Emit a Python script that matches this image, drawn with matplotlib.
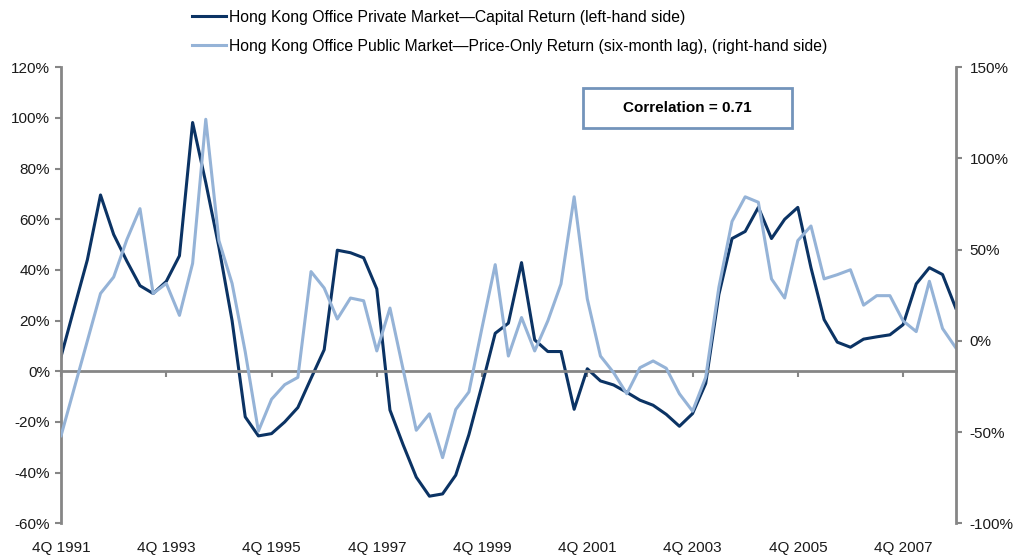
import numpy as np
import matplotlib
matplotlib.use("Agg")
import matplotlib.pyplot as plt
from matplotlib.patches import Rectangle
from matplotlib.transforms import blended_transform_factory
from matplotlib.ticker import FuncFormatter, MultipleLocator

plt.rcParams['font.family'] = ['Liberation Sans', 'DejaVu Sans']

# quarterly returns (%), 4Q 1991 .. 4Q 2008
private_return = [5.8, 25, 44, 69.6, 54, 43.5, 33.8, 30.7, 35.5, 45.6,
                  98.2, 74.5, 49, 20, -18, -25.5, -24.6, -20, -14.3, -2.8,
                  8.5, 47.8, 46.8, 44.8, 32.5, -15.3, -29, -41.8, -49.3, -48.4,
                  -41, -25, -5.4, 15, 19, 42.9, 12.4, 7.8, 7.8, -15,
                  1, -3.8, -5.4, -8.3, -11.4, -13.4, -17, -21.7, -16.7, -4.8,
                  30.3, 52.4, 55.2, 64.7, 52.4, 60, 64.7, 40.9, 20.4, 11.5,
                  9.5, 12.7, 13.6, 14.4, 18.4, 34.5, 40.9, 38.2, 25]
public_return = [-52, -26, 0, 26, 35, 55.5, 72.5, 26, 31.5, 14,
                 42.5, 121.5, 55, 31.5, -6, -49.5, -32, -24, -20, 38,
                 29, 12, 23.5, 22, -5.5, 18, -15.6, -49, -40, -64,
                 -37.6, -28, 7.3, 41.8, -8.3, 12.8, -5.5, 11, 31.2, 79,
                 23, -8.3, -17.4, -29, -14.7, -11, -15, -29, -38.5, -20,
                 29.4, 65.5, 79, 76, 34, 23.5, 55, 63, 34, 36.3,
                 39, 19.6, 24.8, 24.8, 11, 5.1, 32.7, 6.8, -3.7]
tick_labels = ["4Q 1991", "4Q 1993", "4Q 1995", "4Q 1997", "4Q 1999",
               "4Q 2001", "4Q 2003", "4Q 2005", "4Q 2007"]

x = np.arange(len(private_return))
tick_pos = np.arange(0, len(private_return), 8)[:len(tick_labels)]

dark = "#0b3364"
light = "#95b3d7"
grey = "#868686"

fig = plt.figure(figsize=(10.14, 5.58), dpi=100)
ax = fig.add_axes([0.0602, 0.0622, 0.8823, 0.8172])

ax.plot(x, private_return, color=dark, lw=2.2,
        label="Hong Kong Office Private Market\u2014Capital Return (left-hand side)")
ax.set_xlim(0, len(x) - 1)
ax.set_ylim(-60, 120)
ax.yaxis.set_major_locator(MultipleLocator(20))
ax.yaxis.set_major_formatter(FuncFormatter(lambda v, p: f"{v:.0f}%"))

ax2 = ax.twinx()
ax2.plot(x, public_return, color=light, lw=2.2,
         label="Hong Kong Office Public Market\u2014Price-Only Return (six-month lag), (right-hand side)")
ax2.set_ylim(-100, 150)
ax2.yaxis.set_major_locator(MultipleLocator(50))
ax2.yaxis.set_major_formatter(FuncFormatter(lambda v, p: f"{v:.0f}%"))

for a in (ax, ax2):
    for s in ("top", "left", "right", "bottom"):
        a.spines[s].set_visible(False)
ax.spines["left"].set_visible(True)
ax.spines["bottom"].set_visible(True)
ax2.spines["right"].set_visible(True)
ax.spines["left"].set_color(grey)
ax.spines["left"].set_linewidth(2)
ax.spines["bottom"].set_color(grey)
ax.spines["bottom"].set_linewidth(2)
ax.spines["bottom"].set_position(("data", 0))
ax2.spines["right"].set_color(grey)
ax2.spines["right"].set_linewidth(2)

ax.set_xticks(tick_pos)
ax.set_xticklabels([])
ax.tick_params(axis="x", direction="out", length=4, width=1.5, color=grey)
ax.tick_params(axis="y", direction="out", length=4, width=1.5, color=grey,
               labelsize=11, labelcolor="#1a1a1a", pad=4)
ax2.tick_params(axis="y", direction="out", length=4, width=1.5, color=grey,
                labelsize=11, labelcolor="#1a1a1a", pad=6)

# category labels sit under the plot, not on the zero line
trans = blended_transform_factory(ax.transData, ax.transAxes)
for p, lab in zip(tick_pos, tick_labels):
    ax.text(p, -0.054, lab, transform=trans, ha="center", va="center",
            fontsize=11, color="#1a1a1a")

# legend
h1, l1 = ax.get_legend_handles_labels()
h2, l2 = ax2.get_legend_handles_labels()
fig.legend(h1 + h2, l1 + l2, loc="upper left", bbox_to_anchor=(0.175, 1.008),
           frameon=False, fontsize=11.3, handlelength=2.2, handletextpad=0.2,
           labelspacing=0.9)

# correlation box
fig.patches.append(Rectangle((583 / 1014, 1 - 128 / 558), 209 / 1014, 40 / 558,
                             transform=fig.transFigure, facecolor="white",
                             edgecolor="#7394bb", lw=2, zorder=5))
fig.text(687.5 / 1014, 1 - 108 / 558, "Correlation = 0.71", ha="center",
         va="center", fontsize=11, fontweight="bold", zorder=6)

fig.savefig("out.png", dpi=100)
